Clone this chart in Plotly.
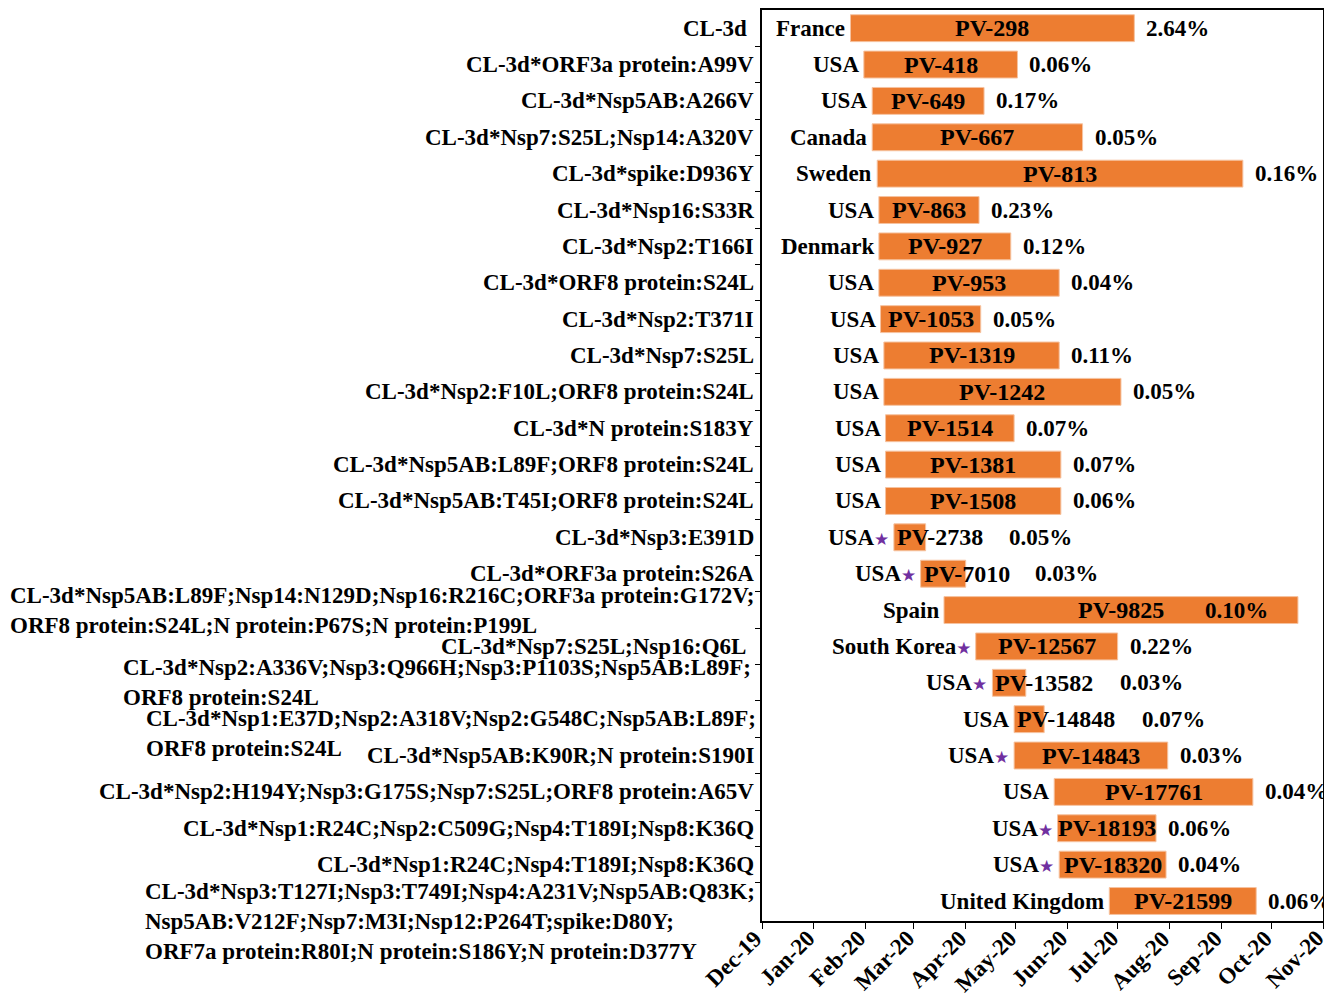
import plotly.graph_objects as go
import pandas as pd

# ---------------- data ----------------
row_labels = [
    "CL-3d",
    "CL-3d*ORF3a protein:A99V",
    "CL-3d*Nsp5AB:A266V",
    "CL-3d*Nsp7:S25L;Nsp14:A320V",
    "CL-3d*spike:D936Y",
    "CL-3d*Nsp16:S33R",
    "CL-3d*Nsp2:T166I",
    "CL-3d*ORF8 protein:S24L",
    "CL-3d*Nsp2:T371I",
    "CL-3d*Nsp7:S25L",
    "CL-3d*Nsp2:F10L;ORF8 protein:S24L",
    "CL-3d*N protein:S183Y",
    "CL-3d*Nsp5AB:L89F;ORF8 protein:S24L",
    "CL-3d*Nsp5AB:T45I;ORF8 protein:S24L",
    "CL-3d*Nsp3:E391D",
    "CL-3d*ORF3a protein:S26A",
    "CL-3d*Nsp5AB:L89F;Nsp14:N129D;Nsp16:R216C;ORF3a protein:G172V;<br>ORF8 protein:S24L;N protein:P67S;N protein:P199L",
    "CL-3d*Nsp7:S25L;Nsp16:Q6L",
    "CL-3d*Nsp2:A336V;Nsp3:Q966H;Nsp3:P1103S;Nsp5AB:L89F;<br>ORF8 protein:S24L",
    "CL-3d*Nsp1:E37D;Nsp2:A318V;Nsp2:G548C;Nsp5AB:L89F;<br>ORF8 protein:S24L",
    "CL-3d*Nsp5AB:K90R;N protein:S190I",
    "CL-3d*Nsp2:H194Y;Nsp3:G175S;Nsp7:S25L;ORF8 protein:A65V",
    "CL-3d*Nsp1:R24C;Nsp2:C509G;Nsp4:T189I;Nsp8:K36Q",
    "CL-3d*Nsp1:R24C;Nsp4:T189I;Nsp8:K36Q",
    "CL-3d*Nsp3:T127I;Nsp3:T749I;Nsp4:A231V;Nsp5AB:Q83K;<br>Nsp5AB:V212F;Nsp7:M3I;Nsp12:P264T;spike:D80Y;<br>ORF7a protein:R80I;N protein:S186Y;N protein:D377Y",
]
countries = ["France", "USA", "USA", "Canada", "Sweden", "USA", "Denmark", "USA",
             "USA", "USA", "USA", "USA", "USA", "USA", "USA", "USA", "Spain",
             "South Korea", "USA", "USA", "USA", "USA", "USA", "USA", "United Kingdom"]
starred = [False, False, False, False, False, False, False, False, False, False,
           False, False, False, False, True, True, False, True, True, False,
           True, False, True, True, False]
pv_ids = ["PV-298", "PV-418", "PV-649", "PV-667", "PV-813", "PV-863", "PV-927",
          "PV-953", "PV-1053", "PV-1319", "PV-1242", "PV-1514", "PV-1381",
          "PV-1508", "PV-2738", "PV-7010", "PV-9825", "PV-12567", "PV-13582",
          "PV-14848", "PV-14843", "PV-17761", "PV-18193", "PV-18320", "PV-21599"]
percents = ["2.64%", "0.06%", "0.17%", "0.05%", "0.16%", "0.23%", "0.12%", "0.04%",
            "0.05%", "0.11%", "0.05%", "0.07%", "0.07%", "0.06%", "0.05%", "0.03%",
            "0.10%", "0.22%", "0.03%", "0.07%", "0.03%", "0.04%", "0.06%", "0.04%",
            "0.06%"]
start_dates = ["2020-01-23", "2020-01-31", "2020-02-05", "2020-02-05", "2020-02-08",
               "2020-02-09", "2020-02-09", "2020-02-09", "2020-02-10", "2020-02-12",
               "2020-02-12", "2020-02-13", "2020-02-13", "2020-02-13", "2020-02-18",
               "2020-03-05", "2020-03-19", "2020-04-07", "2020-04-17", "2020-04-30",
               "2020-04-30", "2020-05-24", "2020-05-26", "2020-05-27", "2020-06-26"]
end_dates = ["2020-07-11", "2020-05-02", "2020-04-12", "2020-06-10", "2020-09-14",
             "2020-04-09", "2020-04-28", "2020-05-27", "2020-04-10", "2020-05-27",
             "2020-07-03", "2020-04-30", "2020-05-28", "2020-05-28", "2020-03-08",
             "2020-04-01", "2020-10-17", "2020-07-01", "2020-05-07", "2020-05-18",
             "2020-07-31", "2020-09-20", "2020-07-24", "2020-07-30", "2020-09-22"]
x_range = ["2019-12-01", "2020-11-01"]
month_ticks = pd.date_range(x_range[0], x_range[1], freq="MS")
month_labels = [d.strftime("%b-%y") for d in month_ticks]

# ---------------- styles ----------------
FONT = "Liberation Serif"
FS_LABEL = 23
FS_PV = 24
FS_PCT = 23
FS_TICK = 23
ORANGE = "#ED7D31"
PURPLE = "#7030A0"
# label position tweaks per row: (xshift, yshift, yanchor)
label_tweak = {0: (-13, 0, "middle"), 17: (-14, 0, "middle"), 18: (-9, 0, "middle"),
               19: (-4, 15, "top"), 24: (-5, 24, "top")}


def fnt(size):
    return dict(family=FONT, size=size, color="black", weight="bold")


starts = pd.to_datetime(start_dates)
ends = pd.to_datetime(end_dates)
dur_ms = [(e - s).total_seconds() * 1000 for s, e in zip(starts, ends)]
dur_days = [(e - s).days for s, e in zip(starts, ends)]
rows = list(range(len(pv_ids)))

fig = go.Figure()
fig.add_trace(go.Bar(
    y=rows, x=dur_ms, base=start_dates, orientation="h", width=0.74,
    marker=dict(color=ORANGE, line=dict(color="#F6C3A0", width=1)),
    hoverinfo="skip", showlegend=False,
))

ann = []
for i in rows:
    xs, ys, ya = label_tweak.get(i, (-6, 0, "middle"))
    ann.append(dict(x=0, xref="paper", y=i, yref="y", text=row_labels[i],
                    xanchor="right", yanchor=ya, align="left", xshift=xs, yshift=ys,
                    showarrow=False, font=fnt(FS_LABEL)))
    ctext = countries[i]
    if starred[i]:
        ctext += f"<span style='color:{PURPLE};font-size:17px;font-family:DejaVu Sans'>★</span>"
    ann.append(dict(x=start_dates[i], xref="x", y=i, yref="y", text=ctext,
                    xanchor="right", yanchor="middle", xshift=-3, showarrow=False,
                    font=fnt(FS_LABEL)))
    short = dur_days[i] < 45
    mid = starts[i] + (ends[i] - starts[i]) / 2
    if short:
        ann.append(dict(x=start_dates[i], xref="x", y=i, yref="y", text=pv_ids[i],
                        xanchor="left", yanchor="middle", xshift=1, showarrow=False,
                        font=fnt(FS_PV)))
        ann.append(dict(x=start_dates[i], xref="x", y=i, yref="y", text=percents[i],
                        xanchor="left", yanchor="middle",
                        xshift=1 + len(pv_ids[i]) * 12.8 + 22, showarrow=False,
                        font=fnt(FS_PCT)))
    else:
        ann.append(dict(x=mid.strftime("%Y-%m-%d %H:%M"), xref="x", y=i, yref="y",
                        text=pv_ids[i], xanchor="center", yanchor="middle",
                        showarrow=False, font=fnt(FS_PV)))
        if ends[i] > pd.Timestamp("2020-10-01"):
            ann.append(dict(x=end_dates[i], xref="x", y=i, yref="y", text=percents[i],
                            xanchor="right", yanchor="middle", xshift=-28, showarrow=False,
                            font=fnt(FS_PCT)))
        else:
            ann.append(dict(x=end_dates[i], xref="x", y=i, yref="y", text=percents[i],
                            xanchor="left", yanchor="middle", xshift=10, showarrow=False,
                            font=fnt(FS_PCT)))

# rotated month labels under the date axis
for d, lab in zip(month_ticks, month_labels):
    ann.append(dict(x=d.strftime("%Y-%m-%d"), xref="x", y=0, yref="paper", text=lab,
                    textangle=-45, xanchor="right", yanchor="top", xshift=8, yshift=-2,
                    showarrow=False, font=fnt(FS_TICK)))

# The page body adds an 8px margin; the figure is sized to fit inside it.
fig.update_layout(
    width=1316, height=985,
    margin=dict(l=754, r=1, t=2, b=72, autoexpand=False),
    paper_bgcolor="white", plot_bgcolor="white",
    annotations=ann,
    xaxis=dict(type="date", range=x_range, tickvals=list(month_ticks),
               showticklabels=False, automargin=False,
               showline=True, linecolor="black", linewidth=1.5, mirror=True,
               ticks="outside", ticklen=6, tickcolor="black", showgrid=False,
               zeroline=False),
    yaxis=dict(range=[24.55, -0.5], tickvals=[r + 0.5 for r in rows[:-1]],
               showticklabels=False, ticks="outside", ticklen=5, tickcolor="black",
               automargin=False,
               showline=True, linecolor="black", linewidth=1.5, mirror=True,
               showgrid=False, zeroline=False),
)

fig.write_html("out.html")
